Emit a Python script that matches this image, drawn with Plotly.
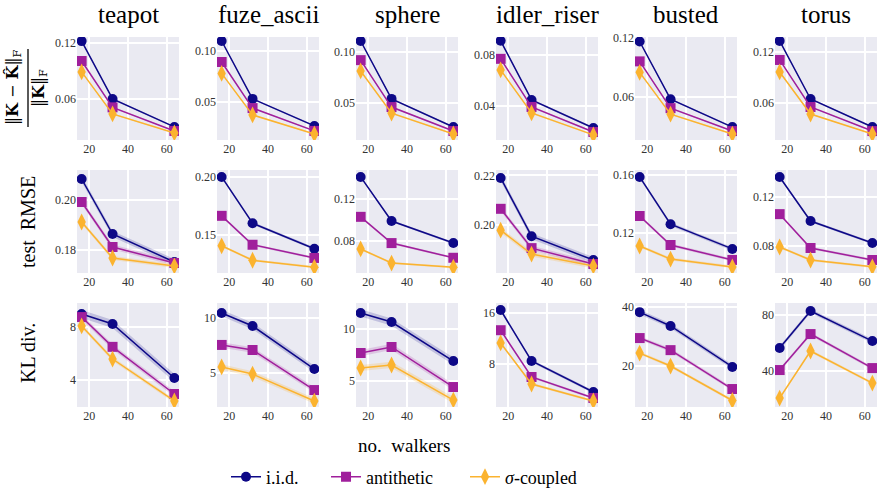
import plotly.graph_objects as go

W, H = 877, 491
datasets = ["teapot", "fuze_ascii", "sphere", "idler_riser", "busted", "torus"]
titles = ["teapot", "fuze_ascii", "sphere", "idler_riser", "busted", "torus"]
walkers = [16, 32, 64]
NB = "\u00a0"
methods = ["i.i.d." + NB * 5, "antithetic" + NB * 6, "<i>σ</i>-coupled"]
colors = ["#0d0887", "#a01f9c", "#fbb32f"]
fills = ["rgba(13,8,135,0.18)", "rgba(160,31,156,0.18)", "rgba(251,179,47,0.22)"]
symbols = ["circle", "square", "diamond-tall"]
msizes = [10, 10, 12]

# relative Frobenius error: dataset -> [iid, antithetic, sigma-coupled]
rel_err = {
    "teapot":      [[0.122, 0.060, 0.030], [0.1007, 0.051, 0.0257], [0.089, 0.044, 0.0236]],
    "fuze_ascii":  [[0.1098, 0.053, 0.0265], [0.0892, 0.044, 0.0216], [0.078, 0.0373, 0.0186]],
    "sphere":      [[0.1108, 0.054, 0.0265], [0.092, 0.046, 0.0225], [0.0814, 0.040, 0.0196]],
    "idler_riser": [[0.091, 0.0447, 0.0227], [0.0769, 0.0392, 0.0196], [0.0682, 0.0345, 0.0173]],
    "busted":      [[0.116, 0.058, 0.030], [0.096, 0.049, 0.026], [0.085, 0.043, 0.023]],
    "torus":       [[0.133, 0.0647, 0.0318], [0.1106, 0.0553, 0.027], [0.0965, 0.047, 0.0235]],
}
rmse = {
    "teapot":      [[0.2084, 0.1864, 0.1752], [0.1992, 0.1812, 0.1748], [0.1912, 0.1768, 0.1736]],
    "fuze_ascii":  [[0.200, 0.160, 0.138], [0.1664, 0.1414, 0.130], [0.1405, 0.128, 0.122]],
    "sphere":      [[0.141, 0.099, 0.078], [0.103, 0.078, 0.064], [0.0724, 0.059, 0.055]],
    "idler_riser": [[0.219, 0.1956, 0.186], [0.2066, 0.1908, 0.1844], [0.198, 0.1884, 0.1836]],
    "busted":      [[0.1586, 0.126, 0.109], [0.1317, 0.1117, 0.1014], [0.111, 0.102, 0.0966]],
    "torus":       [[0.1363, 0.1004, 0.0824], [0.106, 0.0784, 0.0686], [0.0792, 0.0686, 0.063]],
}
kl = {
    "teapot":      [[8.98, 8.23, 4.15], [8.75, 6.5, 2.94], [8.08, 5.58, 2.42]],
    "fuze_ascii":  [[10.45, 9.27, 5.36], [7.55, 7.09, 3.45], [5.55, 4.9, 2.45]],
    "sphere":      [[11.54, 10.67, 6.92], [7.69, 8.27, 4.42], [6.25, 6.54, 3.17]],
    "idler_riser": [[16.47, 8.47, 3.6], [13.3, 5.96, 2.67], [11.3, 4.86, 2.2]],
    "busted":      [[38.3, 33.6, 19.7], [29.5, 25.4, 12.2], [24.4, 20.0, 8.3]],
    "torus":       [[56.4, 82.9, 61.4], [40.7, 66.4, 42.1], [20.7, 54.3, 31.4]],
}
# half-width of the shaded band (per method)
band_rel = {d: [0.0008, 0.0006, 0.0006] for d in datasets}
band_rmse = {
    "teapot": [0.0012, 0.001, 0.0008], "fuze_ascii": [0.0012, 0.001, 0.001],
    "sphere": [0.001, 0.001, 0.001], "idler_riser": [0.0012, 0.001, 0.001],
    "busted": [0.0012, 0.001, 0.001], "torus": [0.001, 0.001, 0.001],
}
band_kl = {
    "teapot": [0.3, 0.2, 0.15], "fuze_ascii": [0.3, 0.25, 0.25],
    "sphere": [0.35, 0.3, 0.3], "idler_riser": [0.25, 0.2, 0.2],
    "busted": [0.8, 0.6, 0.5], "torus": [1.5, 1.2, 1.0],
}

yranges = [
    {"teapot": [0.016, 0.1264], "fuze_ascii": [0.0127, 0.1137], "sphere": [0.0137, 0.1147],
     "idler_riser": [0.0133, 0.094], "busted": [0.017, 0.1205], "torus": [0.0165, 0.1376]},
    {"teapot": [0.1708, 0.212], "fuze_ascii": [0.117, 0.206], "sphere": [0.0495, 0.1476],
     "idler_riser": [0.1808, 0.2222], "busted": [0.0924, 0.1634], "torus": [0.058, 0.142]},
    {"teapot": [1.96, 9.81], "fuze_ascii": [1.91, 11.36], "sphere": [2.5, 12.5],
     "idler_riser": [1.25, 17.57], "busted": [6.1, 41.4], "torus": [14.3, 88.6]},
]
yticks = [
    {"teapot": [0.06, 0.12], "fuze_ascii": [0.05, 0.10], "sphere": [0.05, 0.10],
     "idler_riser": [0.04, 0.08], "busted": [0.06, 0.12], "torus": [0.06, 0.12]},
    {"teapot": [0.18, 0.20], "fuze_ascii": [0.15, 0.20], "sphere": [0.08, 0.12],
     "idler_riser": [0.20, 0.22], "busted": [0.12, 0.16], "torus": [0.08, 0.12]},
    {"teapot": [4, 8], "fuze_ascii": [5, 10], "sphere": [5, 10],
     "idler_riser": [8, 16], "busted": [20, 40], "torus": [40, 80]},
]
ytext_fmt = ["%.2f", "%.2f", "%d"]
xticks = [20, 40, 60]
metrics = [rel_err, rmse, kl]
bands = [band_rel, band_rmse, band_kl]

col_px = [(77, 179), (217, 319), (356, 458), (496, 598), (635, 737), (775, 877)]
row_px = [(37, 140), (170, 273), (303, 407)]

FONT = "Liberation Serif"
fig = go.Figure()
layout = {}
k = 0
for r in range(3):
    for c, d in enumerate(datasets):
        k += 1
        xa = "x" if k == 1 else f"x{k}"
        ya = "y" if k == 1 else f"y{k}"
        for m in range(3):
            vals = metrics[r][d][m]
            hw = bands[r][d][m]
            up = [v + hw for v in vals]
            lo = [v - hw for v in vals]
            fig.add_trace(go.Scatter(x=walkers + walkers[::-1], y=up + lo[::-1], fill="toself",
                                     fillcolor=fills[m], line=dict(width=0), mode="lines",
                                     showlegend=False, hoverinfo="skip", xaxis=xa, yaxis=ya))
        for m in range(3):
            vals = metrics[r][d][m]
            fig.add_trace(go.Scatter(x=walkers, y=vals, mode="lines+markers", name=methods[m],
                                     line=dict(color=colors[m], width=1.5),
                                     marker=dict(symbol=symbols[m], size=msizes[m], color=colors[m]),
                                     showlegend=(k == 1), xaxis=xa, yaxis=ya))
        x0, x1 = col_px[c]
        y0, y1 = row_px[r]
        tv = yticks[r][d]
        layout["xaxis" if k == 1 else f"xaxis{k}"] = dict(
            domain=[x0 / W, min(x1 / W, 1)], anchor=ya, range=[13.6, 66.4],
            tickvals=xticks, ticktext=[str(t) for t in xticks], showgrid=True, gridcolor="white",
            gridwidth=1.6, zeroline=False, showline=False, ticks="", ticklen=0,
            tickfont=dict(family=FONT, size=12, color="#333333"))
        layout["yaxis" if k == 1 else f"yaxis{k}"] = dict(
            domain=[1 - y1 / H, 1 - y0 / H], anchor=xa, range=yranges[r][d],
            tickvals=tv, ticktext=[ytext_fmt[r] % t for t in tv], showgrid=True,
            gridcolor="white", gridwidth=1.6, zeroline=False, showline=False, ticks="",
            tickfont=dict(family=FONT, size=12, color="#333333"))

shapes = []
for c in range(6):
    for r in range(3):
        x0, x1 = col_px[c]
        y0, y1 = row_px[r]
        shapes.append(dict(type="rect", xref="paper", yref="paper", x0=x0 / W, x1=x1 / W,
                           y0=1 - y1 / H, y1=1 - y0 / H, fillcolor="#EAEAF2",
                           line=dict(width=0), layer="below"))
# fraction bar of the first row label
shapes.append(dict(type="line", xref="paper", yref="paper", x0=28 / W, x1=28 / W,
                   y0=1 - 127 / H, y1=1 - 49 / H, line=dict(color="black", width=1.3)))


def ann(text, x, y, size, angle=0, family=FONT):
    return dict(text=text, x=x / W, y=1 - y / H, xref="paper", yref="paper", showarrow=False,
                textangle=angle, xanchor="center", yanchor="middle",
                font=dict(family=family, size=size, color="black"))


annotations = []
for c, t in enumerate(titles):
    x0, x1 = col_px[c]
    annotations.append(ann(t, (x0 + x1) / 2, 14, 25))
annotations.append(ann("‖<b>K</b> − <b>K̂</b>‖<sub>F</sub>", 14, 88, 16, -90, "DejaVu Serif"))
annotations.append(ann("‖<b>K</b>‖<sub>F</sub>", 40, 88, 16, -90, "DejaVu Serif"))
annotations.append(ann("test  RMSE", 28, 222, 20, -90))
annotations.append(ann("KL div.", 28, 353, 20, -90))
annotations.append(ann("no.  walkers", 404, 445, 19))

fig.update_layout(
    width=W, height=H, margin=dict(l=0, r=0, t=0, b=0, autoexpand=False),
    paper_bgcolor="white", plot_bgcolor="rgba(0,0,0,0)",
    shapes=shapes, annotations=annotations,
    legend=dict(orientation="h", x=404 / W, xanchor="center", y=1 - 477 / H, yanchor="middle",
                font=dict(family=FONT, size=18, color="black"), bgcolor="rgba(0,0,0,0)",
                itemwidth=30, tracegroupgap=0),
    **layout,
)
fig.write_html("out.html", config={"displayModeBar": False},
               post_script="document.body.style.margin='0px';")
